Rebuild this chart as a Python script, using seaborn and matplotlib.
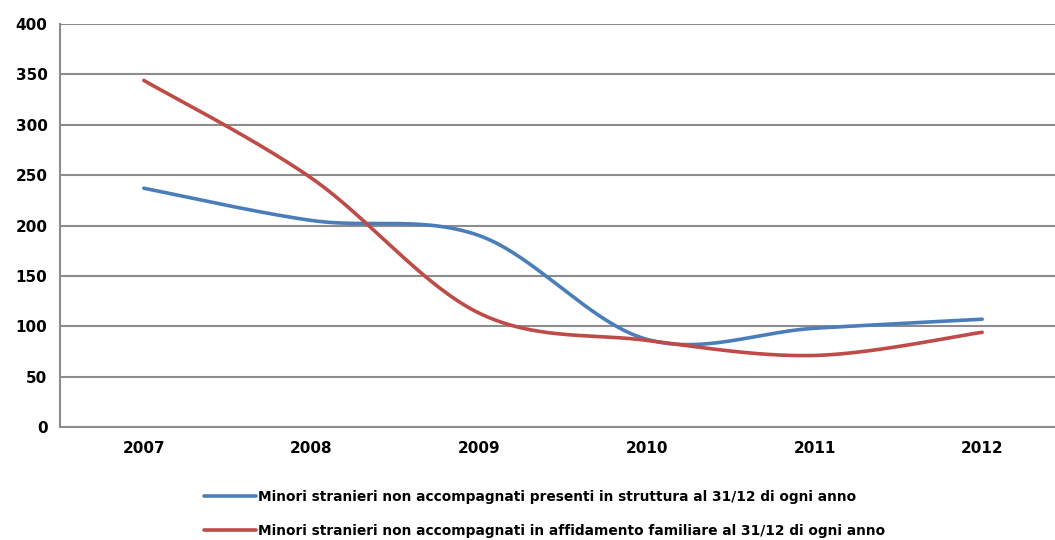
import numpy as np
import pandas as pd
import matplotlib
matplotlib.use("Agg")
import matplotlib.pyplot as plt
import seaborn as sns

years = ["2007", "2008", "2009", "2010", "2011", "2012"]
in_struttura = [237, 205, 190, 87, 98, 107]
in_affidamento = [344, 247, 113, 86, 71, 94]
series_names = [
    "Minori stranieri non accompagnati presenti in struttura al 31/12 di ogni anno",
    "Minori stranieri non accompagnati in affidamento familiare al 31/12 di ogni anno",
]
colors = ["#4A7EBB", "#BE4B48"]
y_ticks = [0, 50, 100, 150, 200, 250, 300, 350, 400]


def smooth(values, samples=60):
    """Spreadsheet-style smoothed line: cubic Bezier segments with
    Catmull-Rom control points through every data point."""
    p = np.column_stack([np.arange(len(values), dtype=float), np.asarray(values, float)])
    ext = np.vstack([p[0], p, p[-1]])
    xs, ys = [], []
    t = np.linspace(0, 1, samples)[:, None]
    for i in range(len(p) - 1):
        p0, p1, p2, p3 = ext[i], ext[i + 1], ext[i + 2], ext[i + 3]
        c1 = p1 + (p2 - p0) / 6.0
        c2 = p2 - (p3 - p1) / 6.0
        seg = ((1 - t) ** 3) * p1 + 3 * ((1 - t) ** 2) * t * c1 + 3 * (1 - t) * t ** 2 * c2 + t ** 3 * p2
        if i > 0:
            seg = seg[1:]
        xs.append(seg[:, 0])
        ys.append(seg[:, 1])
    return np.concatenate(xs), np.concatenate(ys)


frames = []
for name, vals in zip(series_names, [in_struttura, in_affidamento]):
    sx, sy = smooth(vals)
    frames.append(pd.DataFrame({"x": sx, "y": sy, "serie": name}))
df = pd.concat(frames, ignore_index=True)

sns.set_theme(style="white")
plt.rcParams["font.family"] = ["DejaVu Sans"]

fig = plt.figure(figsize=(10.55, 5.40), dpi=100)
ax = fig.add_axes([60 / 1055, 1 - 427 / 540, 1006 / 1055, 403 / 540])

sns.lineplot(data=df, x="x", y="y", hue="serie", palette=colors, sort=False,
             estimator=None, linewidth=2.6, ax=ax, legend=True)

grid_col = "#8C8C8C"
ax.set_xlim(-0.5, len(years) - 0.5)
ax.set_ylim(0, 400)
ax.set_yticks(y_ticks)
ax.set_yticklabels([str(v) for v in y_ticks], fontsize=11, fontweight="bold", color="black")
ax.set_xticks(range(len(years)))
ax.set_xticklabels(years, fontsize=11, fontweight="bold", color="black")
ax.set_xticks(np.arange(len(years)) + 0.5, minor=True)
ax.tick_params(axis="x", which="major", length=0, pad=10)
ax.tick_params(axis="x", which="minor", length=7, width=1.5, color=grid_col, direction="out")
ax.tick_params(axis="y", length=5, width=1.5, color=grid_col, direction="out", pad=4)
ax.yaxis.grid(True, color=grid_col, linewidth=1.5)
ax.set_axisbelow(True)
for side in ["top", "right"]:
    ax.spines[side].set_visible(False)
for side in ["left", "bottom"]:
    ax.spines[side].set_color(grid_col)
    ax.spines[side].set_linewidth(1.5)
ax.set_xlabel("")
ax.set_ylabel("")

handles, labels = ax.get_legend_handles_labels()
ax.get_legend().remove()
leg = fig.legend(handles, labels, loc="upper left", bbox_to_anchor=(204 / 1055, 1 - 490 / 540),
                 frameon=False, prop={"size": 9.9, "weight": "bold"}, handlelength=3.75,
                 handletextpad=0.15, labelspacing=1.45, borderpad=0, borderaxespad=0)
for txt in leg.get_texts():
    txt.set_color("black")

fig.savefig("out.png", dpi=100)
